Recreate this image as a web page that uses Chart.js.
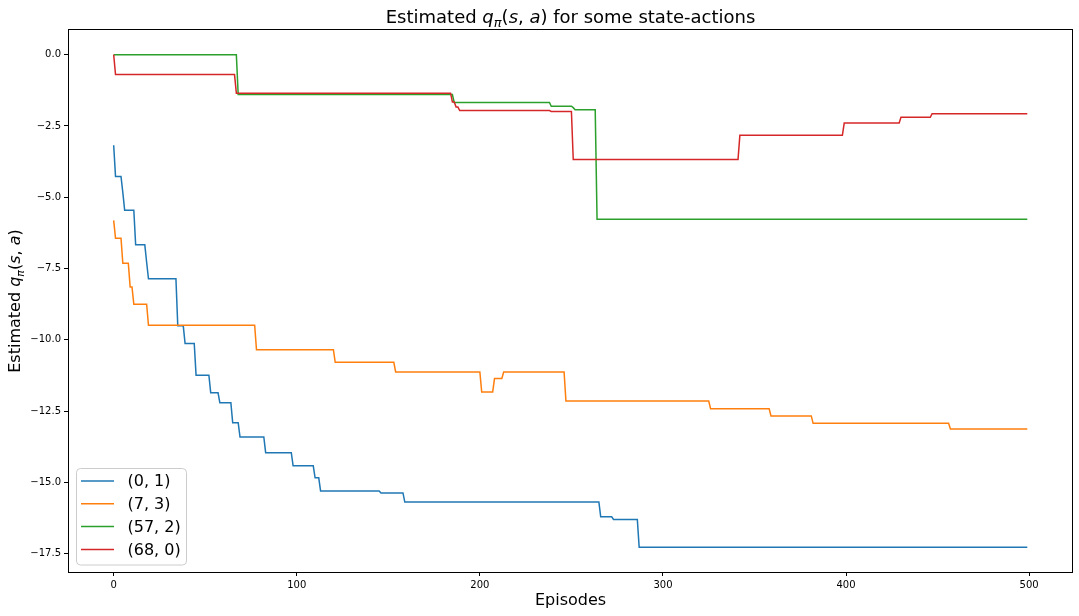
<!DOCTYPE html>
<html>
<head>
<meta charset="utf-8">
<script src="https://cdn.jsdelivr.net/npm/chart.js@4.4.1/dist/chart.umd.min.js"></script>
<style>
  html, body { margin: 0; padding: 0; background: #fff; }
  canvas { display: block; }
</style>
</head>
<body>
<canvas id="qChart" width="1079" height="616"></canvas>
<script>
// state-action pairs shown in the legend
const seriesLabels = ['(0, 1)', '(7, 3)', '(57, 2)', '(68, 0)'];
const seriesColors = ['#1f77b4', '#ff7f0e', '#2ca02c', '#d62728'];

// episode where the estimate changes -> estimate from that episode on
const ep01 = [0, 1, 5, 6, 12, 18, 19, 35, 39, 45, 53, 58, 65, 69, 83, 98, 110, 113, 146, 159, 266, 273, 287, 499];
const q01  = [-3.18, -4.27, -4.84, -5.46, -6.67, -7.28, -7.86, -9.51, -10.13, -11.24, -11.86, -12.21, -12.91, -13.41, -13.96, -14.42, -14.84, -15.30, -15.37, -15.69, -16.21, -16.30, -17.28, -17.28];

const ep73 = [0, 1, 5, 9, 11, 19, 78, 121, 154, 201, 208, 213, 247, 326, 359, 382, 457, 499];
const q73  = [-5.81, -6.44, -7.32, -8.15, -8.75, -9.49, -10.35, -10.79, -11.13, -11.83, -11.36, -11.13, -12.15, -12.42, -12.67, -12.93, -13.13, -13.13];

const ep572 = [0, 68, 186, 239, 251, 252, 264, 499];
const q572  = [0, -1.40, -1.68, -1.81, -1.86, -1.93, -5.77, -5.77];

const ep680 = [0, 1, 67, 185, 187, 189, 239, 251, 342, 399, 430, 447, 499];
const q680  = [0, -0.70, -1.35, -1.66, -1.84, -1.96, -1.99, -3.68, -2.83, -2.40, -2.20, -2.07, -2.07];

const xTicks = [0, 100, 200, 300, 400, 500];
const yTicks = [0, -2.5, -5, -7.5, -10, -12.5, -15, -17.5];

const FONT = '"DejaVu Sans", "Liberation Sans", sans-serif';

// value held until the next change, drawn like a per-episode plot
function stepPoints(eps, vals) {
    const pts = [{ x: eps[0], y: vals[0] }];
    for (let i = 1; i < eps.length; i++) {
        pts.push({ x: eps[i] - 1, y: vals[i - 1] });
        pts.push({ x: eps[i], y: vals[i] });
    }
    return pts;
}

const allSeries = [[ep01, q01], [ep73, q73], [ep572, q572], [ep680, q680]];

// matplotlib style 5% margins
const allQ = [].concat(q01, q73, q572, q680);
const qMin = Math.min(...allQ), qMax = Math.max(...allQ);
const lastEp = ep01[ep01.length - 1];
const xMin = -0.05 * lastEp, xMax = lastEp * 1.05;
const yMin = qMin - 0.05 * (qMax - qMin), yMax = qMax + 0.05 * (qMax - qMin);

function partFont(p, size) {
    const s = p.sub ? Math.round(size * 0.7) : size;
    return (p.it ? 'oblique ' : '') + s + 'px ' + FONT;
}

// text with math-like italic letters and a subscript
function drawRich(ctx, parts, size, x, y, rotate) {
    let total = 0;
    parts.forEach(p => {
        ctx.font = partFont(p, size);
        p.w = ctx.measureText(p.t).width;
        total += p.w;
    });
    ctx.save();
    ctx.translate(x, y);
    if (rotate) ctx.rotate(-Math.PI / 2);
    ctx.fillStyle = '#000';
    ctx.textBaseline = 'alphabetic';
    ctx.textAlign = 'left';
    let cx = -total / 2;
    parts.forEach(p => {
        ctx.font = partFont(p, size);
        ctx.fillText(p.t, cx, p.sub ? size * 0.22 : 0);
        cx += p.w;
    });
    ctx.restore();
}

const qParts = [
    { t: 'q', it: true }, { t: 'π', it: true, sub: true },
    { t: '(' }, { t: 's', it: true }, { t: ', ' }, { t: 'a', it: true }, { t: ')' }
];

const decorPlugin = {
    id: 'decor',
    afterDraw(chart) {
        const ctx = chart.ctx;
        const a = chart.chartArea;
        ctx.save();

        // four spines
        ctx.strokeStyle = '#000';
        ctx.lineWidth = 1;
        ctx.strokeRect(Math.round(a.left) + 0.5, Math.round(a.top) - 0.5,
            Math.round(a.right - a.left) - 1, Math.round(a.bottom - a.top) + 1);

        const midX = (a.left + a.right) / 2;
        drawRich(ctx, [{ t: 'Estimated ' }].concat(qParts, [{ t: ' for some state-actions' }]), 18, midX, 23, false);
        drawRich(ctx, [{ t: 'Estimated ' }].concat(qParts), 16, 20, (a.top + a.bottom) / 2, true);

        ctx.font = '16px ' + FONT;
        ctx.fillStyle = '#000';
        ctx.textAlign = 'center';
        ctx.textBaseline = 'alphabetic';
        ctx.fillText('Episodes', midX, 605);

        // legend, lower left inside the axes
        const bx = a.left + 8.5, by = a.bottom - 103.5, bw = 110, bh = 96.5;
        ctx.beginPath();
        ctx.roundRect(bx, by, bw, bh, 4);
        ctx.fillStyle = 'rgba(255,255,255,0.8)';
        ctx.fill();
        ctx.strokeStyle = '#cccccc';
        ctx.stroke();
        ctx.font = '16px ' + FONT;
        ctx.textAlign = 'left';
        ctx.textBaseline = 'middle';
        chart.data.datasets.forEach((ds, i) => {
            const ry = by + 12.5 + i * 22.8;
            ctx.beginPath();
            ctx.moveTo(bx + 4.5, ry);
            ctx.lineTo(bx + 37.5, ry);
            ctx.strokeStyle = ds.borderColor;
            ctx.lineWidth = 1.5;
            ctx.stroke();
            ctx.fillStyle = '#000';
            ctx.fillText(ds.label, bx + 51, ry + 1);
        });
        ctx.restore();
    }
};

new Chart(document.getElementById('qChart'), {
    type: 'line',
    data: {
        datasets: allSeries.map((s, i) => ({
            label: seriesLabels[i],
            data: stepPoints(s[0], s[1]),
            borderColor: seriesColors[i],
            backgroundColor: seriesColors[i],
            borderWidth: 1.5,
            pointRadius: 0,
            tension: 0,
            fill: false,
            order: allSeries.length - i // later series on top, as in matplotlib
        }))
    },
    options: {
        responsive: false,
        animation: false,
        devicePixelRatio: 1,
        layout: { padding: { top: 30, right: 6, left: 0, bottom: 0 } },
        plugins: {
            legend: { display: false },
            title: { display: false },
            tooltip: { enabled: false }
        },
        scales: {
            x: {
                type: 'linear',
                min: xMin,
                max: xMax,
                afterBuildTicks: s => { s.ticks = xTicks.map(v => ({ value: v })); },
                afterFit: s => { s.height = 44; },
                ticks: {
                    font: { family: FONT, size: 10 },
                    color: '#000',
                    padding: 3,
                    maxRotation: 0,
                    autoSkip: false,
                    callback: v => String(v)
                },
                grid: { drawOnChartArea: false, drawTicks: true, tickLength: 4, color: '#000' },
                border: { display: false }
            },
            y: {
                type: 'linear',
                min: yMin,
                max: yMax,
                afterBuildTicks: s => { s.ticks = yTicks.map(v => ({ value: v })); },
                afterFit: s => { s.width = 68; },
                ticks: {
                    font: { family: FONT, size: 10 },
                    color: '#000',
                    padding: 3,
                    autoSkip: false,
                    callback: v => (v < 0 ? '\u2212' : '') + Math.abs(v).toFixed(1)
                },
                grid: { drawOnChartArea: false, drawTicks: true, tickLength: 4, color: '#000' },
                border: { display: false }
            }
        }
    },
    plugins: [decorPlugin]
});
</script>
</body>
</html>
